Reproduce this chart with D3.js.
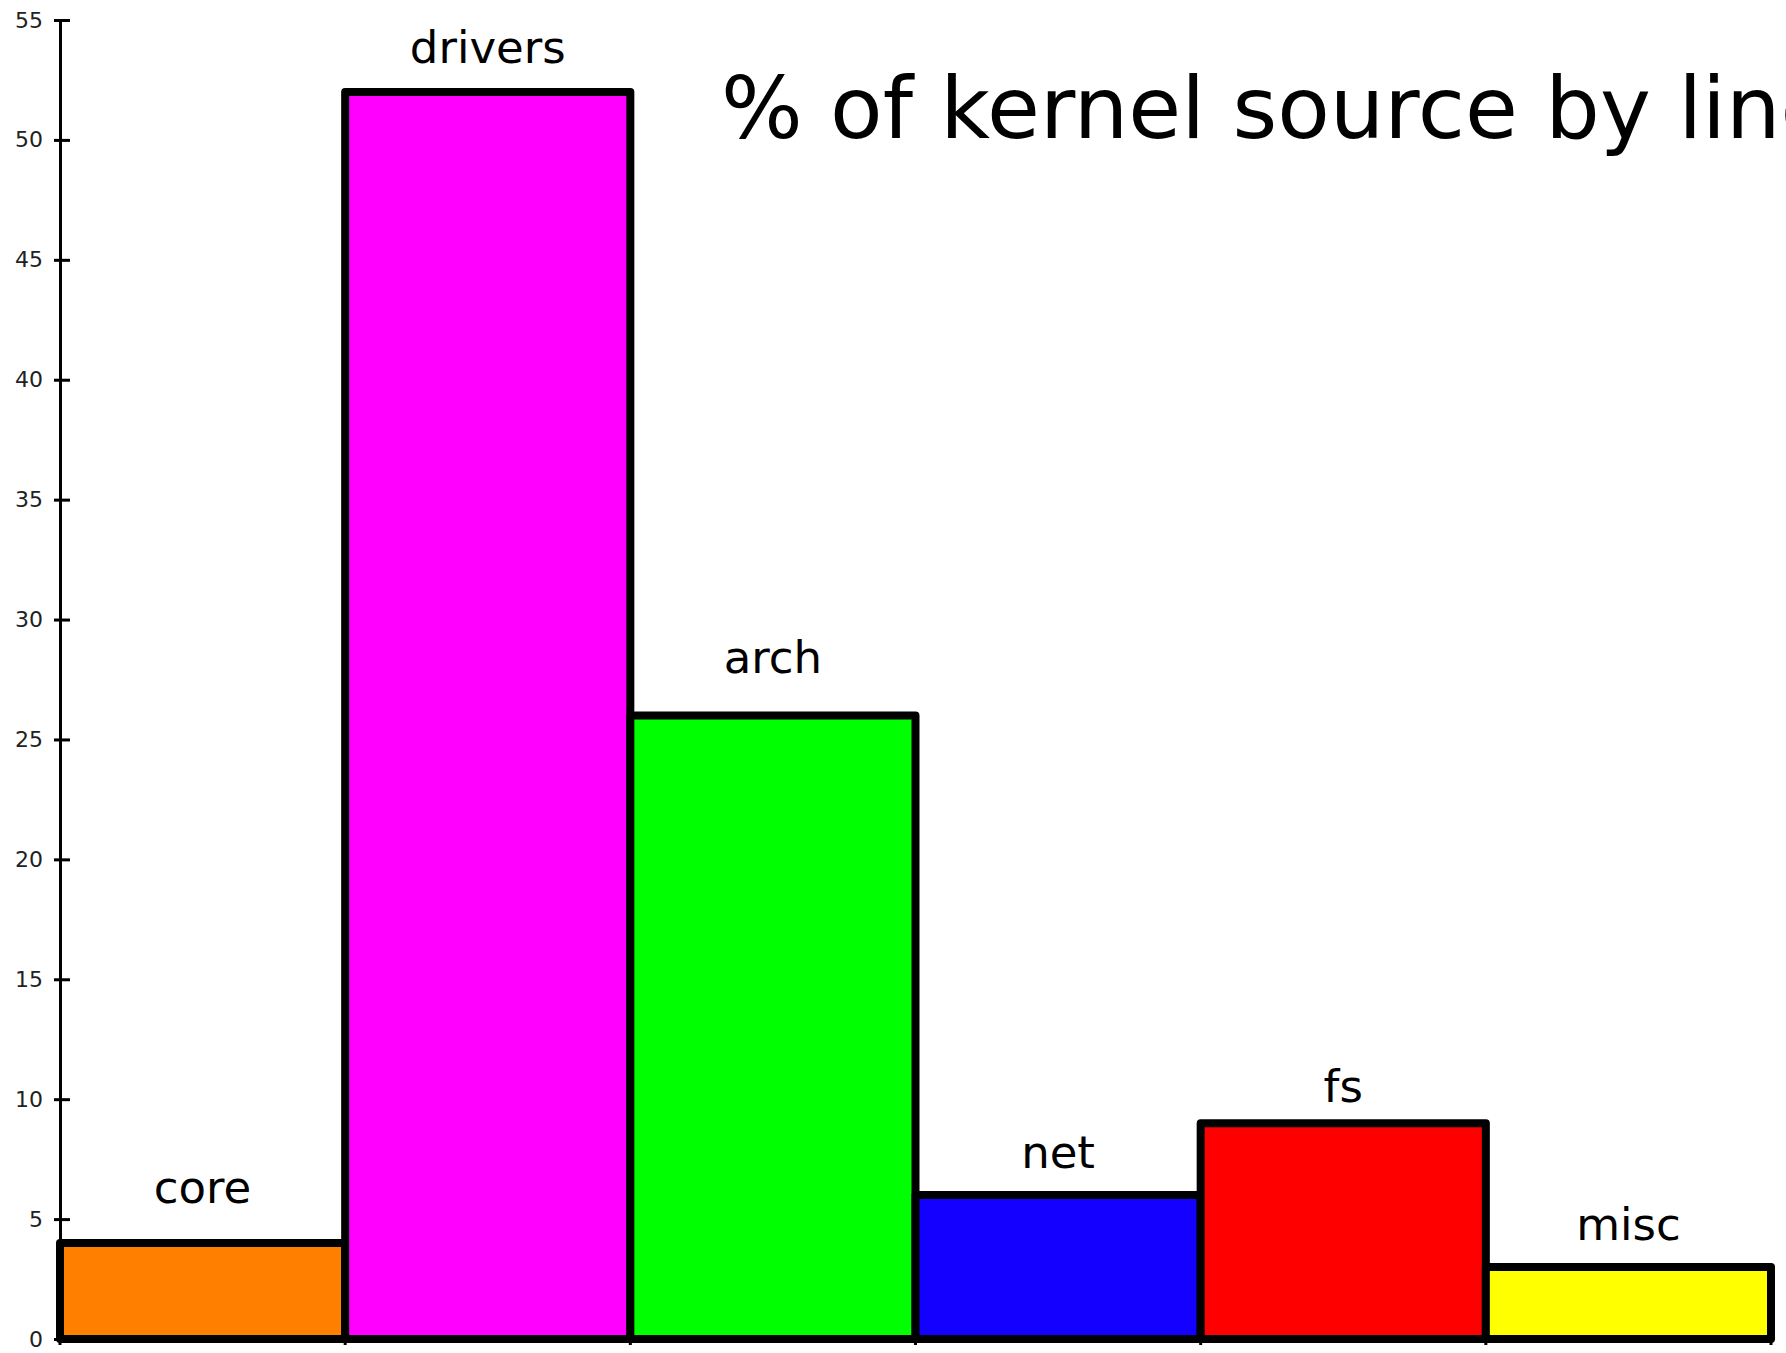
<!DOCTYPE html>
<html>
<head>
<meta charset="utf-8">
<script src="https://cdn.jsdelivr.net/npm/d3@7"></script>
<style>
  html, body { margin: 0; padding: 0; background: #fff; }
  svg { display: block; font-family: "DejaVu Sans", sans-serif; }
</style>
</head>
<body>
<div id="chart"></div>
<script>
// data
const categories = ["core", "drivers", "arch", "net", "fs", "misc"];
const values = [4, 52, 26, 6, 9, 3];
const barColors = ["#ff7f00", "#ff00ff", "#00ff00", "#1400ff", "#ff0000", "#ffff00"];
const yTicks = [0, 5, 10, 15, 20, 25, 30, 35, 40, 45, 50, 55];
const title = "% of kernel source by lines";

const width = 1786, height = 1353;
const margin = { top: 20, right: 15, bottom: 14, left: 60 };
// the labels were placed by hand, so their gap above the bar varies a bit
const labelGap = [40, 29, 42, 27, 21, 27];

const svg = d3.select("#chart")
    .append("svg")
    .attr("width", width)
    .attr("height", height);

const x = d3.scaleBand()
    .domain(categories)
    .range([margin.left, width - margin.right])
    .paddingInner(0)
    .paddingOuter(0);

const y = d3.scaleLinear()
    .domain([0, 55])
    .range([height - margin.bottom, margin.top]);

// title, runs off the right edge like the original
svg.append("text")
    .attr("x", 721)
    .attr("y", 138)
    .style("font-size", "86px")
    .attr("fill", "#000")
    .text(title);

// bars
svg.selectAll(".bar")
    .data(values)
    .enter()
    .append("rect")
    .attr("class", "bar")
    .attr("x", (d, i) => x(categories[i]))
    .attr("y", d => y(d))
    .attr("width", x.bandwidth())
    .attr("height", d => y(0) - y(d))
    .attr("fill", (d, i) => barColors[i])
    .attr("stroke", "#000")
    .attr("stroke-width", 8)
    .attr("stroke-linejoin", "round");

// category labels above each bar
svg.selectAll(".label")
    .data(values)
    .enter()
    .append("text")
    .attr("class", "label")
    .attr("x", (d, i) => x(categories[i]) + x.bandwidth() / 2)
    .attr("y", (d, i) => y(d) - labelGap[i])
    .attr("text-anchor", "middle")
    .style("font-size", "45px")
    .attr("fill", "#000")
    .text((d, i) => categories[i]);

// small ticks under the bar edges
const edges = categories.map(c => x(c)).concat([x(categories[categories.length - 1]) + x.bandwidth()]);
svg.selectAll(".xtick")
    .data(edges)
    .enter()
    .append("line")
    .attr("class", "xtick")
    .attr("x1", d => d)
    .attr("x2", d => d)
    .attr("y1", y(0))
    .attr("y2", y(0) + 6)
    .attr("stroke", "#000")
    .attr("stroke-width", 3);

// y axis
const yAxis = svg.append("g")
    .attr("transform", `translate(${margin.left},0)`)
    .call(d3.axisLeft(y).tickValues(yTicks).tickSizeInner(6).tickSizeOuter(0).tickPadding(11));

yAxis.select(".domain")
    .attr("stroke", "#000")
    .attr("stroke-width", 3);

yAxis.selectAll(".tick line")
    .attr("x1", 10)
    .attr("x2", -6)
    .attr("stroke", "#000")
    .attr("stroke-width", 3);

yAxis.selectAll(".tick text")
    .style("font-size", "22px")
    .style("font-family", "'DejaVu Sans', sans-serif")
    .attr("fill", "#222");
</script>
</body>
</html>
